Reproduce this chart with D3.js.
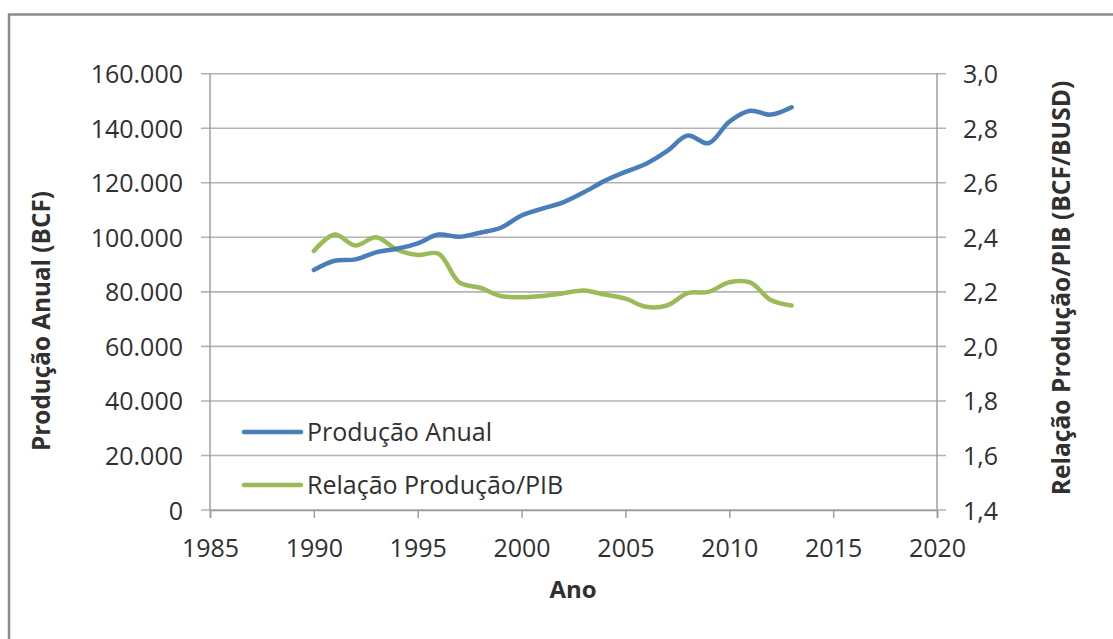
<!DOCTYPE html>
<html>
<head>
<meta charset="utf-8">
<script src="https://cdn.jsdelivr.net/npm/d3@7"></script>
<style>
  body { margin: 0; background: #fff; }
  svg { display: block; }
</style>
</head>
<body>
<script>
// Data
const years = [1990, 1991, 1992, 1993, 1994, 1995, 1996, 1997, 1998, 1999, 2000, 2001,
  2002, 2003, 2004, 2005, 2006, 2007, 2008, 2009, 2010, 2011, 2012, 2013]
const producao = [88000, 91400, 91900, 94500, 95800, 97800, 101000, 100200, 101700, 103500, 108000, 110500,
  112800, 116500, 120700, 124000, 127000, 131600, 137300, 134500, 142400, 146400, 145000, 147700]
const relacao = [2.35, 2.41, 2.37, 2.40, 2.355, 2.335, 2.34, 2.235, 2.215, 2.185, 2.18, 2.185,
  2.195, 2.205, 2.19, 2.175, 2.145, 2.15, 2.195, 2.2, 2.235, 2.235, 2.17, 2.15]
const xTicks = [1985, 1990, 1995, 2000, 2005, 2010, 2015, 2020]
const leftTicks = [0, 20000, 40000, 60000, 80000, 100000, 120000, 140000, 160000]
const rightTicks = [1.4, 1.6, 1.8, 2.0, 2.2, 2.4, 2.6, 2.8, 3.0]
const seriesNames = ['Produção Anual', 'Relação Produção/PIB']

const colors = {
  blue: '#4a7ebb',
  green: '#9bbb59',
  grid: '#b3b3b3',
  axis: '#9a9a9a',
  text: '#303030',
  frame: '#8c8c8c',
}

const W = 1113, H = 639
const plot = { left: 210, right: 937, top: 73.7, bottom: 510 }
const font = "'Open Sans', 'Liberation Sans', sans-serif"

const locale = d3.formatLocale({ decimal: ',', thousands: '.', grouping: [3], currency: ['', ''] })
const fmtLeft = locale.format(',')
const fmtRight = locale.format('.1f')

const svg = d3.select('body').append('svg')
  .attr('width', W).attr('height', H)

// Chart frame
svg.append('rect')
  .attr('x', 9).attr('y', 14.5)
  .attr('width', W + 20).attr('height', H + 20)
  .attr('fill', '#fff')
  .attr('stroke', colors.frame)
  .attr('stroke-width', 2.5)

const x = d3.scaleLinear().domain([1985, 2020]).range([plot.left, plot.right])
const yL = d3.scaleLinear().domain([0, 160000]).range([plot.bottom, plot.top])
const yR = d3.scaleLinear().domain([1.4, 3.0]).range([plot.bottom, plot.top])

// Gridlines (extend past both axes like tick marks)
const grid = svg.append('g')
leftTicks.forEach(t => {
  grid.append('line')
    .attr('x1', plot.left - 9).attr('x2', plot.right + 9)
    .attr('y1', yL(t)).attr('y2', yL(t))
    .attr('stroke', colors.grid)
    .attr('stroke-width', 1.6)
})

// Vertical axis lines
;[plot.left, plot.right].forEach(px => {
  svg.append('line')
    .attr('x1', px).attr('x2', px)
    .attr('y1', plot.top).attr('y2', plot.bottom)
    .attr('stroke', colors.axis)
    .attr('stroke-width', 1.4)
})

// X axis
const xAxis = svg.append('g')
  .attr('transform', `translate(0,${plot.bottom})`)
  .call(d3.axisBottom(x).tickValues(xTicks).tickSize(8).tickPadding(18).tickFormat(d3.format('d')))
xAxis.select('.domain').attr('stroke', colors.axis).attr('stroke-width', 1.6)
xAxis.selectAll('.tick line').attr('stroke', colors.axis).attr('stroke-width', 1.4)
xAxis.selectAll('.tick text')
  .attr('y', 47).attr('dy', null)
  .style('font-family', font).style('font-size', '25px').attr('fill', colors.text)

// Left axis labels
const leftAxis = svg.append('g')
  .attr('transform', `translate(${plot.left},0)`)
  .call(d3.axisLeft(yL).tickValues(leftTicks).tickSize(0).tickPadding(27).tickFormat(fmtLeft))
leftAxis.select('.domain').remove()
leftAxis.selectAll('.tick text')
  .attr('dy', '0.36em')
  .style('font-family', font).style('font-size', '25px').attr('fill', colors.text)

// Right axis labels
const rightAxis = svg.append('g')
  .attr('transform', `translate(${plot.right},0)`)
  .call(d3.axisRight(yR).tickValues(rightTicks).tickSize(0).tickPadding(26).tickFormat(fmtRight))
rightAxis.select('.domain').remove()
rightAxis.selectAll('.tick text')
  .attr('dy', '0.36em')
  .style('font-family', font).style('font-size', '25px').attr('fill', colors.text)

// Axis titles
svg.append('text')
  .attr('transform', 'translate(50,321) rotate(-90)')
  .attr('text-anchor', 'middle')
  .style('font-family', font).style('font-size', '24.3px').style('font-weight', 700)
  .attr('fill', colors.text)
  .text('Produção Anual (BCF)')

svg.append('text')
  .attr('transform', 'translate(1070,288) rotate(-90)')
  .attr('text-anchor', 'middle')
  .style('font-family', font).style('font-size', '24.6px').style('font-weight', 700)
  .attr('fill', colors.text)
  .text('Relação Produção/PIB (BCF/BUSD)')

svg.append('text')
  .attr('x', 573).attr('y', 598)
  .attr('text-anchor', 'middle')
  .style('font-family', font).style('font-size', '24px').style('font-weight', 700)
  .attr('fill', colors.text)
  .text('Ano')

// Lines
const lineL = d3.line()
  .x((d, i) => x(years[i]))
  .y(d => yL(d))
  .curve(d3.curveCatmullRom.alpha(0.5))
const lineR = d3.line()
  .x((d, i) => x(years[i]))
  .y(d => yR(d))
  .curve(d3.curveCatmullRom.alpha(0.5))

svg.append('path')
  .datum(relacao)
  .attr('d', lineR)
  .attr('fill', 'none')
  .attr('stroke', colors.green)
  .attr('stroke-width', 4.5)
  .attr('stroke-linecap', 'round')
  .attr('stroke-linejoin', 'round')

svg.append('path')
  .datum(producao)
  .attr('d', lineL)
  .attr('fill', 'none')
  .attr('stroke', colors.blue)
  .attr('stroke-width', 4.5)
  .attr('stroke-linecap', 'round')
  .attr('stroke-linejoin', 'round')

// Legend
const legendItems = [
  { name: seriesNames[0], color: colors.blue, y: 432 },
  { name: seriesNames[1], color: colors.green, y: 485 },
]
legendItems.forEach(item => {
  svg.append('line')
    .attr('x1', 244).attr('x2', 301)
    .attr('y1', item.y).attr('y2', item.y)
    .attr('stroke', item.color)
    .attr('stroke-width', 4.5)
    .attr('stroke-linecap', 'round')
  svg.append('text')
    .attr('x', 307).attr('y', item.y).attr('dy', '0.36em')
    .style('font-family', font).style('font-size', '25px')
    .attr('fill', colors.text)
    .text(item.name)
})
</script>
</body>
</html>
